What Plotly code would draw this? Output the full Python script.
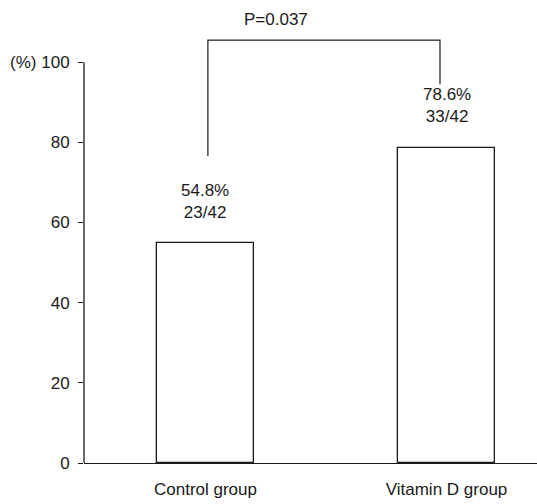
import plotly.graph_objects as go

# Response rates per group
groups = ["Control group", "Vitamin D group"]
pct = [54.8, 78.6]
responders = [23, 33]
totals = [42, 42]
p_value = "0.037"
y_ticks = [0, 20, 40, 60, 80, 100]
y_tick_text = ["0", "20", "40", "60", "80", "(%) 100"]

FONT = "Liberation Sans, Arial"
FS = 17
INK = "#1a1a1a"
xpos = list(range(len(groups)))

fig = go.Figure()
fig.add_trace(go.Bar(
    x=xpos, y=pct, width=0.4,
    marker=dict(color="white", line=dict(color=INK, width=1.3)),
    showlegend=False, hoverinfo="skip",
))

# value labels above the bars
for xi, p, r, t in zip(xpos, pct, responders, totals):
    fig.add_annotation(
        x=xi, y=p + 10.5, xref="x", yref="y",
        text=f"{p:.1f}%<br>{r}/{t}", showarrow=False,
        font=dict(family=FONT, size=FS, color=INK), yanchor="middle",
    )

# significance bracket
bx0, bx1 = 0.01, 0.973
fig.add_trace(go.Scatter(
    x=[bx0, bx0, bx1, bx1], y=[76.6, 105.5, 105.5, 94.5],
    mode="lines", line=dict(color=INK, width=1.2),
    showlegend=False, hoverinfo="skip",
))
fig.add_annotation(
    x=(bx0 + bx1) / 2 - 0.2, y=110.6, xref="x", yref="y",
    text=f"P={p_value}", showarrow=False,
    font=dict(family=FONT, size=FS, color=INK),
)

# y axis line, only up to 100
fig.add_shape(type="line", xref="paper", yref="y", x0=0, x1=0, y0=0, y1=100,
              line=dict(color=INK, width=1.3))

fig.update_layout(
    width=537, height=504,
    margin=dict(l=84, r=0, t=0, b=41),
    plot_bgcolor="white", paper_bgcolor="white",
    bargap=0,
    xaxis=dict(
        range=[-0.504, 1.3755], tickvals=xpos, ticktext=groups,
        showline=True, linecolor=INK, linewidth=1.3, ticks="",
        showgrid=False, zeroline=False, ticklabelstandoff=10,
        tickfont=dict(family=FONT, size=FS, color=INK),
    ),
    yaxis=dict(
        range=[0, 115.5], tickvals=y_ticks, ticktext=y_tick_text,
        showline=False, ticks="outside", ticklen=5, tickwidth=1.2, tickcolor=INK,
        showgrid=False, zeroline=False, ticklabelstandoff=5,
        tickfont=dict(family=FONT, size=FS, color=INK),
    ),
)

fig.write_html("out.html")
